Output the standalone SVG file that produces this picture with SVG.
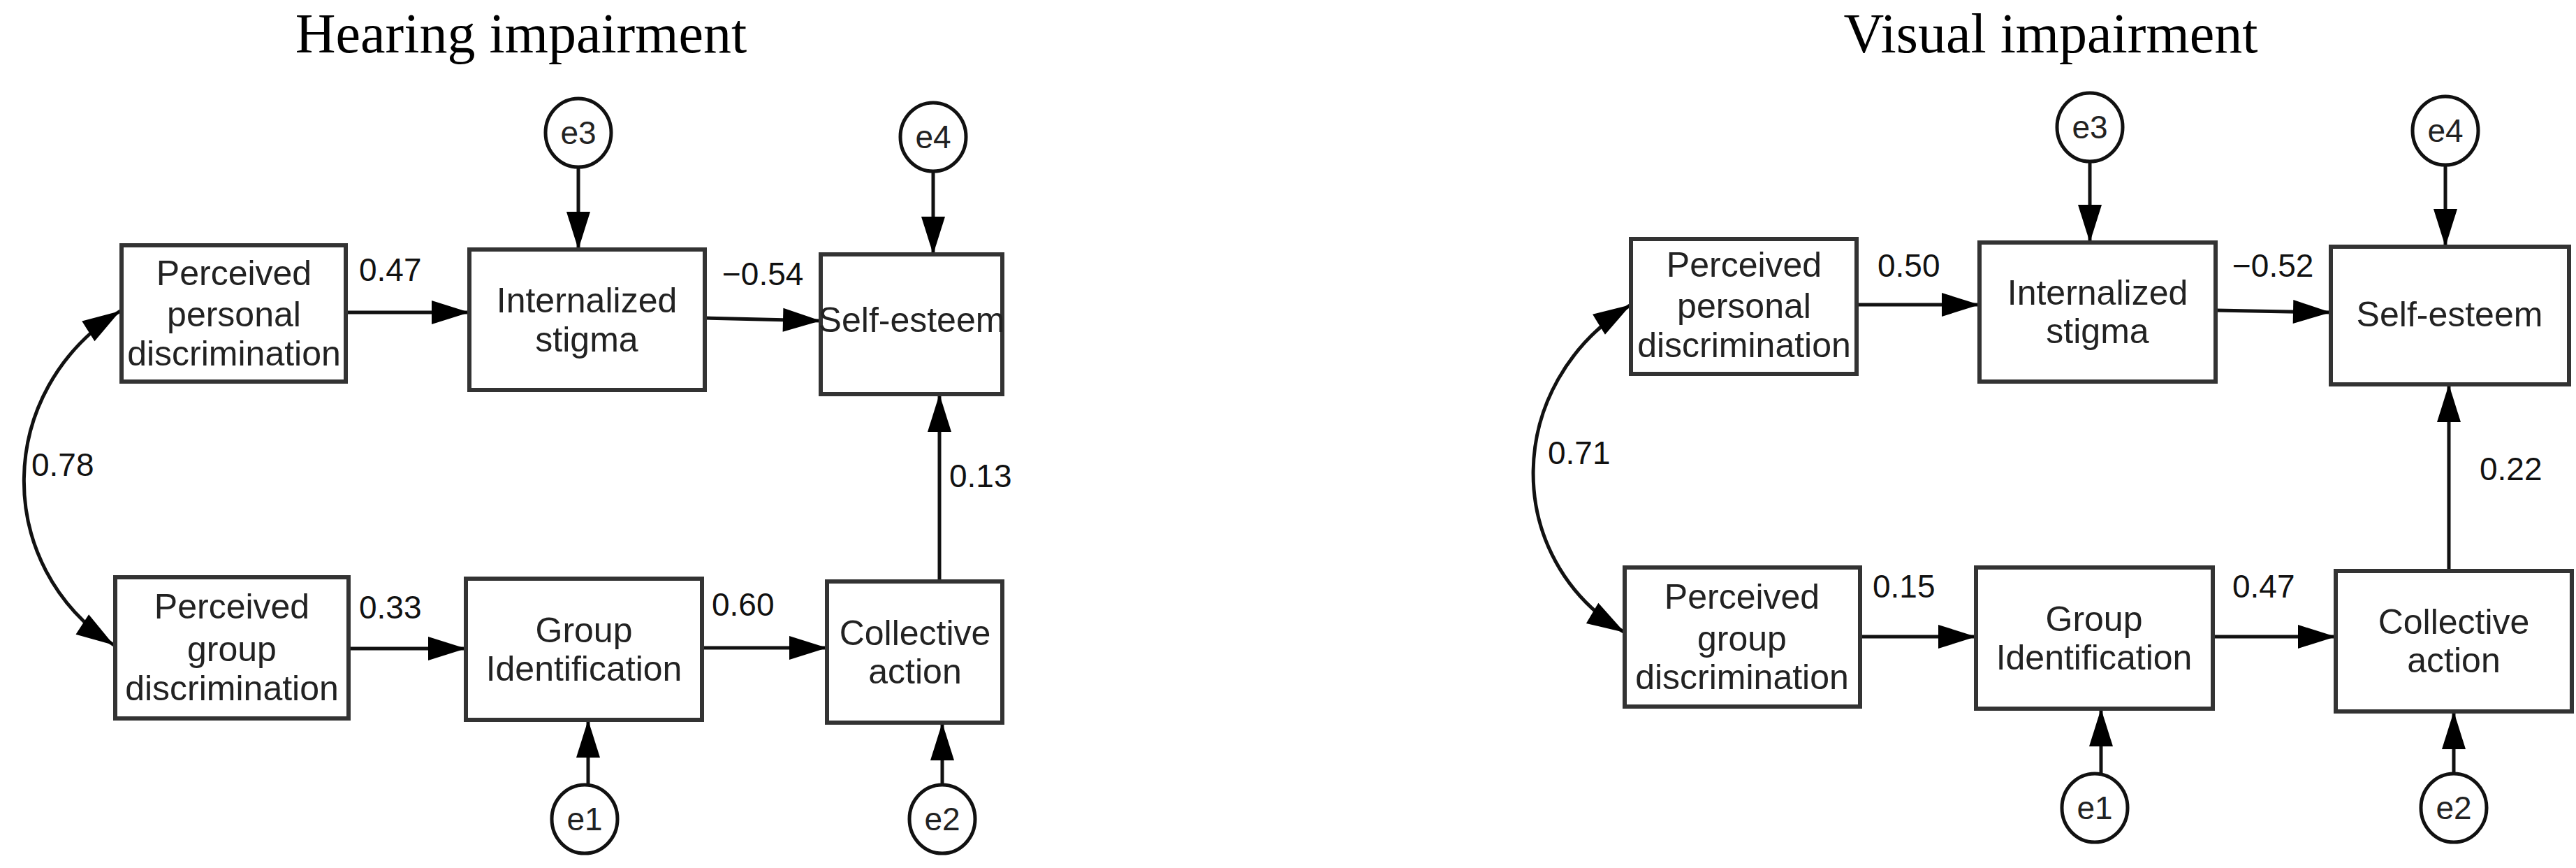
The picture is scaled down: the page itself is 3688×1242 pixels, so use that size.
<svg xmlns="http://www.w3.org/2000/svg" width="3688" height="1242" viewBox="0 0 3688 1242">
<style>
.b{fill:#fff;stroke:#333;stroke-width:6}
.c{fill:#fff;stroke:#111;stroke-width:5}
.t{font-family:"Liberation Sans",Arial,sans-serif;font-size:50px;fill:#222;text-anchor:middle}
.e{font-family:"Liberation Sans",Arial,sans-serif;font-size:46px;fill:#222;text-anchor:middle}
.l{font-family:"Liberation Sans",Arial,sans-serif;font-size:46px;fill:#111}
.h{font-family:"Liberation Serif","Times New Roman",serif;font-size:80px;fill:#000;text-anchor:middle}
.a{fill:none;stroke:#111;stroke-width:5;marker-end:url(#ar)}
.d{fill:none;stroke:#111;stroke-width:5;marker-end:url(#ar);marker-start:url(#as)}
</style>
<defs>
<marker id="ar" markerUnits="userSpaceOnUse" markerWidth="60" markerHeight="40" viewBox="-56 -20 60 40" refX="0" refY="0" orient="auto"><path d="M0,0 L-54,-17 L-54,17 Z" fill="#000"/></marker>
<marker id="as" markerUnits="userSpaceOnUse" markerWidth="60" markerHeight="40" viewBox="-56 -20 60 40" refX="0" refY="0" orient="auto-start-reverse"><path d="M0,0 L-54,-17 L-54,17 Z" fill="#000"/></marker>
</defs>
<text class="h" x="746" y="75">Hearing impairment</text>
<text class="h" x="2936" y="75">Visual impairment</text>
<g id="connectors">
<path class="a" d="M495,447 L672,447"/>
<path class="a" d="M1009,455 L1175,459"/>
<path class="a" d="M499,928 L667,928"/>
<path class="a" d="M1005,927 L1184,927"/>
<path class="a" d="M1345,832 L1345,564"/>
<path class="a" d="M828,239 L828,357"/>
<path class="a" d="M1336,245 L1336,364"/>
<path class="a" d="M842,1124 L842,1030"/>
<path class="a" d="M1349,1124 L1349,1034"/>
<path class="d" d="M172,445 C-10,560 -10,810 163,923"/>
<path class="a" d="M2658,436 L2834,436"/>
<path class="a" d="M3172,444 L3337,447"/>
<path class="a" d="M2663,911 L2829,911"/>
<path class="a" d="M3168,911 L3344,911"/>
<path class="a" d="M3506,817 L3506,550"/>
<path class="a" d="M2992,230 L2992,347"/>
<path class="a" d="M3501,235 L3501,353"/>
<path class="a" d="M3008,1108 L3008,1014"/>
<path class="a" d="M3513,1108 L3513,1018"/>
<path class="d" d="M2335,436 C2150,550 2150,800 2326,905"/>
</g>
<g class="l">
<text x="514" y="402">0.47</text>
<text x="1034" y="408">−0.54</text>
<text x="45" y="681">0.78</text>
<text x="1359" y="697">0.13</text>
<text x="514" y="885">0.33</text>
<text x="1019" y="881">0.60</text>
<text x="2688" y="396">0.50</text>
<text x="3196" y="396">−0.52</text>
<text x="2216" y="664">0.71</text>
<text x="3550" y="687">0.22</text>
<text x="2681" y="855">0.15</text>
<text x="3196" y="855">0.47</text>
</g>
<g id="h-ppd"><rect class="b" x="174" y="351" width="321" height="195"/><text class="t" x="335" y="408">Perceived</text><text class="t" x="335" y="467">personal</text><text class="t" x="335" y="523">discrimination</text></g>
<g id="h-is"><rect class="b" x="672" y="357" width="337" height="201"/><text class="t" x="840" y="447">Internalized</text><text class="t" x="840" y="503">stigma</text></g>
<g id="h-se"><rect class="b" x="1175" y="364" width="260" height="200"/><text class="t" x="1305" y="475">Self-esteem</text></g>
<g id="h-pgd"><rect class="b" x="165" y="826" width="334" height="202"/><text class="t" x="332" y="885">Perceived</text><text class="t" x="332" y="946">group</text><text class="t" x="332" y="1002">discrimination</text></g>
<g id="h-gi"><rect class="b" x="667" y="828" width="338" height="202"/><text class="t" x="836" y="919">Group</text><text class="t" x="836" y="974">Identification</text></g>
<g id="h-ca"><rect class="b" x="1184" y="832" width="251" height="202"/><text class="t" x="1310" y="923">Collective</text><text class="t" x="1310" y="978">action</text></g>
<g id="h-e3"><ellipse class="c" cx="828" cy="190" rx="47" ry="49"/><text class="e" x="828" y="206">e3</text></g>
<g id="h-e4"><ellipse class="c" cx="1336" cy="196" rx="47" ry="49"/><text class="e" x="1336" y="212">e4</text></g>
<g id="h-e1"><ellipse class="c" cx="837" cy="1172" rx="47" ry="49"/><text class="e" x="837" y="1188">e1</text></g>
<g id="h-e2"><ellipse class="c" cx="1349" cy="1172" rx="47" ry="49"/><text class="e" x="1349" y="1188">e2</text></g>
<g id="v-ppd"><rect class="b" x="2335" y="342" width="323" height="193"/><text class="t" x="2497" y="396">Perceived</text><text class="t" x="2497" y="455">personal</text><text class="t" x="2497" y="511">discrimination</text></g>
<g id="v-is"><rect class="b" x="2834" y="347" width="338" height="199"/><text class="t" x="3003" y="436">Internalized</text><text class="t" x="3003" y="491">stigma</text></g>
<g id="v-se"><rect class="b" x="3337" y="353" width="341" height="197"/><text class="t" x="3507" y="467">Self-esteem</text></g>
<g id="v-pgd"><rect class="b" x="2326" y="812" width="337" height="199"/><text class="t" x="2494" y="871">Perceived</text><text class="t" x="2494" y="931">group</text><text class="t" x="2494" y="986">discrimination</text></g>
<g id="v-gi"><rect class="b" x="2829" y="812" width="339" height="202"/><text class="t" x="2998" y="903">Group</text><text class="t" x="2998" y="958">Identification</text></g>
<g id="v-ca"><rect class="b" x="3344" y="817" width="338" height="201"/><text class="t" x="3513" y="907">Collective</text><text class="t" x="3513" y="962">action</text></g>
<g id="v-e3"><ellipse class="c" cx="2992" cy="182" rx="47" ry="49"/><text class="e" x="2992" y="198">e3</text></g>
<g id="v-e4"><ellipse class="c" cx="3501" cy="187" rx="47" ry="49"/><text class="e" x="3501" y="203">e4</text></g>
<g id="v-e1"><ellipse class="c" cx="2999" cy="1156" rx="47" ry="49"/><text class="e" x="2999" y="1172">e1</text></g>
<g id="v-e2"><ellipse class="c" cx="3513" cy="1156" rx="47" ry="49"/><text class="e" x="3513" y="1172">e2</text></g>
</svg>
